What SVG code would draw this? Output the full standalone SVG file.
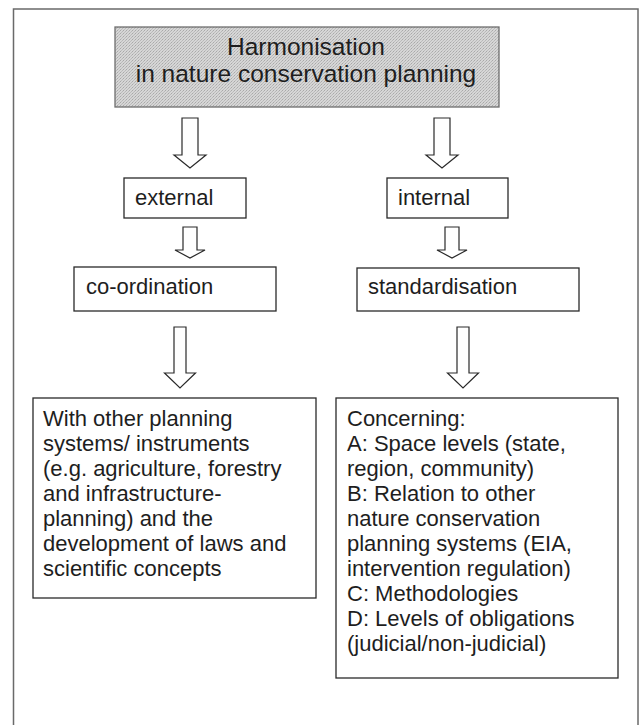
<svg xmlns="http://www.w3.org/2000/svg" width="639" height="725" viewBox="0 0 639 725">
  <defs>
    <!-- fine stipple used for the shaded heading box -->
    <pattern id="stipple" width="3" height="3" patternUnits="userSpaceOnUse">
      <rect width="3" height="3" fill="#d6d6d6"/>
      <rect x="0" y="0" width="1" height="1" fill="#a9a9a9"/>
      <rect x="2" y="1" width="1" height="1" fill="#b8b8b8"/>
      <rect x="1" y="2" width="1" height="1" fill="#bdbdbd"/>
    </pattern>
    <style>
      .frame { fill: none; stroke: #6a6a6a; stroke-width: 1.5; }
      .box { fill: #ffffff; stroke: #2a2a2a; stroke-width: 1.3; }
      .head { fill: url(#stipple); stroke: #6e6e6e; stroke-width: 1.3; }
      .arrow { fill: #ffffff; stroke: #2a2a2a; stroke-width: 1.2; stroke-linejoin: miter; }
      .t { font-family: "Liberation Sans", Arial, sans-serif; font-size: 22px; fill: #1e1e1e; }
      .title { font-family: "Liberation Sans", Arial, sans-serif; font-size: 24.5px; fill: #1e1e1e; text-anchor: middle; }
    </style>
  </defs>

  <rect width="639" height="725" fill="#ffffff"/>

  <!-- outer page frame (bottom edge runs off the page) -->
  <rect class="frame" x="13.5" y="9" width="624.5" height="740"/>

  <!-- heading -->
  <g id="node-harmonisation">
    <rect class="head" x="115" y="27" width="384" height="80"/>
    <text class="title" x="306" y="55">Harmonisation</text>
    <text class="title" x="306" y="82">in nature conservation planning</text>
  </g>

  <g id="node-external">
    <rect class="box" x="124" y="178" width="122" height="40"/>
    <text class="t" x="135" y="205">external</text>
  </g>

  <g id="node-internal">
    <rect class="box" x="387" y="178" width="121" height="40"/>
    <text class="t" x="398" y="205">internal</text>
  </g>

  <g id="node-coordination">
    <rect class="box" x="74" y="267" width="202" height="44"/>
    <text class="t" x="86" y="294">co-ordination</text>
  </g>

  <g id="node-standardisation">
    <rect class="box" x="357" y="268" width="222" height="43"/>
    <text class="t" x="368" y="294">standardisation</text>
  </g>

  <g id="node-coordination-detail">
    <rect class="box" x="33" y="398" width="283" height="200"/>
    <text class="t" x="43" y="426">
      <tspan x="43" y="426">With other planning</tspan>
      <tspan x="43" y="451">systems/ instruments</tspan>
      <tspan x="43" y="476">(e.g. agriculture, forestry</tspan>
      <tspan x="43" y="501">and infrastructure-</tspan>
      <tspan x="43" y="526">planning) and the</tspan>
      <tspan x="43" y="551">development of laws and</tspan>
      <tspan x="43" y="576">scientific concepts</tspan>
    </text>
  </g>

  <g id="node-standardisation-detail">
    <rect class="box" x="336" y="398" width="282" height="280"/>
    <text class="t" x="347" y="426">
      <tspan x="347" y="426">Concerning:</tspan>
      <tspan x="347" y="451">A: Space levels (state,</tspan>
      <tspan x="347" y="476">region, community)</tspan>
      <tspan x="347" y="501">B: Relation to other</tspan>
      <tspan x="347" y="526">nature conservation</tspan>
      <tspan x="347" y="551">planning systems (EIA,</tspan>
      <tspan x="347" y="576">intervention regulation)</tspan>
      <tspan x="347" y="601">C: Methodologies</tspan>
      <tspan x="347" y="626">D: Levels of obligations</tspan>
      <tspan x="347" y="651">(judicial/non-judicial)</tspan>
    </text>
  </g>

  <!-- hollow block arrows -->
  <g id="connectors">
    <!-- heading to external / internal -->
    <polygon class="arrow" points="182,118 198,118 198,155 206,155 190,168 174,155 182,155"/>
    <polygon class="arrow" points="434,118 450,118 450,155 458,155 442,168 426,155 434,155"/>
    <!-- external to co-ordination, internal to standardisation -->
    <polygon class="arrow" points="183,227 197,227 197,250 205,250 190,258 175,250 183,250"/>
    <polygon class="arrow" points="445,227 459,227 459,250 467,250 452,258 437,250 445,250"/>
    <!-- to the detail boxes -->
    <polygon class="arrow" points="174,327 186,327 186,373 195.5,373 180,388 164.5,373 174,373"/>
    <polygon class="arrow" points="457,327 469,327 469,373 478.5,373 463,388 447.5,373 457,373"/>
  </g>
</svg>
